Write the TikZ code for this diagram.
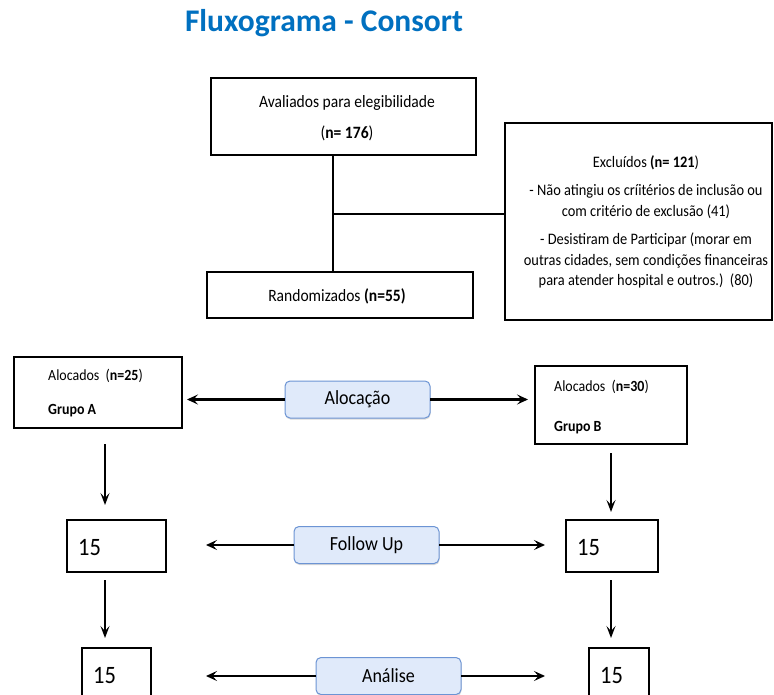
\documentclass[tikz,border=0pt]{standalone}
\usepackage{fontspec}
\setmainfont{Carlito}
\newfontfamily\cond{Carlito}[FakeStretch=0.9]
\usetikzlibrary{arrows.meta,shadows}
\definecolor{titleblue}{RGB}{0,112,192}
\definecolor{pillfill}{RGB}{224,234,250}
\definecolor{pilldraw}{RGB}{108,148,212}
\tikzset{
  box/.style={draw, line width=2.8pt, inner sep=0pt, outer sep=0pt, anchor=north west},
  pill/.style={draw=pilldraw, fill=pillfill, rounded corners=5pt, line width=1pt,
    inner sep=0pt, outer sep=0pt, minimum width=145pt, minimum height=37pt,
    drop shadow={shadow xshift=0.5pt, shadow yshift=-1.5pt, opacity=0.3},
    font=\cond\fontsize{20}{24}\selectfont},
  txtmain/.style={inner sep=0pt, align=center, font=\cond\fontsize{17.3}{31}\selectfont},
  txtexcl/.style={inner sep=0pt, align=center, font=\cond\fontsize{16}{20.5}\selectfont},
  txtaloc/.style={inner sep=0pt, align=left, anchor=west},
  txtnum/.style={inner sep=0pt, anchor=west, font=\cond\fontsize{25}{25}\selectfont},
  conn/.style={line width=2.8pt},
  arr/.style={line width=2.6pt, -{Stealth[length=11pt,width=10pt,inset=4.5pt]}},
  varr/.style={line width=2.1pt, -{Stealth[length=12pt,width=9pt,inset=5pt]}}
}
\begin{document}
\begin{tikzpicture}[x=1pt,y=-1pt]
\clip (0,0) rectangle (774,695);
\fill[white] (0,0) rectangle (774,695);

\node[inner sep=0pt, text=titleblue, font=\bfseries\fontsize{31.5}{31.5}\selectfont] (title) at (324,23) {Fluxograma - Consort};

% boxes
\node[box, minimum width=265pt, minimum height=77pt] (aval) at (211,78) {};
\node[box, minimum width=266pt, minimum height=46pt] (rand) at (207,272) {};
\node[box, minimum width=267pt, minimum height=197pt] (excl) at (505,123) {};
\node[box, minimum width=168pt, minimum height=71pt] (alocA) at (14,357) {};
\node[box, minimum width=152pt, minimum height=78pt] (alocB) at (535,366) {};
\node[box, minimum width=99pt, minimum height=52pt] (fA) at (67,520) {};
\node[box, minimum width=92pt, minimum height=52pt] (fB) at (566,520) {};
\node[box, minimum width=69pt, minimum height=60pt] (aA) at (82,648) {};
\node[box, minimum width=60pt, minimum height=60pt] (aB) at (589,648) {};

% texts
\node[txtmain] (avalt) at (347,118) {Avaliados para elegibilidade\\(\textbf{n= 176})};
\node[txtmain] (randt) at (337,296) {Randomizados \textbf{(n=55)}};
\node[txtexcl] (exclt) at (646,222) {Exclu\'idos \textbf{(n= 121})\\[8pt]
  - N\~ao atingiu os cr\'iit\'erios de inclus\~ao ou\\
  com crit\'erio de exclus\~ao (41)\\[8pt]
  - Desistiram de Participar (morar em\\
  outras cidades, sem condi\c{c}\~oes financeiras\\
  para atender hospital e outros.)\ \ (80)};
\node[txtaloc, font=\cond\fontsize{15.5}{34}\selectfont] (alocAt) at (48,393) {Alocados\ \ (\textbf{n=25})\\\textbf{Grupo A}};
\node[txtaloc, font=\cond\fontsize{15.5}{40}\selectfont] (alocBt) at (554,407) {Alocados\ \ (\textbf{n=30})\\\textbf{Grupo B}};
\node[txtnum] (fAt) at (78,548) {15};
\node[txtnum] (fBt) at (577,548) {15};
\node[txtnum] (aAt) at (93,676) {15};
\node[txtnum] (aBt) at (600,676) {15};

% pills
\node[pill] (aloc) at (357.5,399.5) {Aloca\c{c}\~ao};
\node[pill] (fup) at (366.5,545) {Follow Up};
\node[pill] (anal) at (388.5,676) {An\'alise};

% top connectors
\coordinate (j) at (333,214);
\draw[conn] (aval.south -| j) -- (rand.north -| j);
\draw[conn] (j) -- (j -| excl.west);

% allocation arrows
\draw[arr, shorten >=5pt] (aloc.west) -- (aloc.west -| alocA.east);
\draw[arr, shorten >=7pt] (aloc.east) -- (aloc.east -| alocB.west);

% follow up arrows
\coordinate (fl) at (206,545);
\coordinate (fr) at (545,545);
\draw[arr] (fup.west) -- (fl);
\draw[arr] (fup.east) -- (fr);

% analise arrows
\coordinate (al) at (206,676);
\coordinate (ar) at (545,676);
\draw[arr] (anal.west) -- (al);
\draw[arr] (anal.east) -- (ar);

% vertical arrows
\coordinate (v1s) at (105,444); \coordinate (v1e) at (105,505);
\coordinate (v2s) at (611,453); \coordinate (v2e) at (611,512);
\coordinate (v3s) at (105,580); \coordinate (v3e) at (105,638);
\coordinate (v4s) at (611,580); \coordinate (v4e) at (611,638);
\draw[varr] (v1s) -- (v1e);
\draw[varr] (v2s) -- (v2e);
\draw[varr] (v3s) -- (v3e);
\draw[varr] (v4s) -- (v4e);
\end{tikzpicture}
\end{document}
